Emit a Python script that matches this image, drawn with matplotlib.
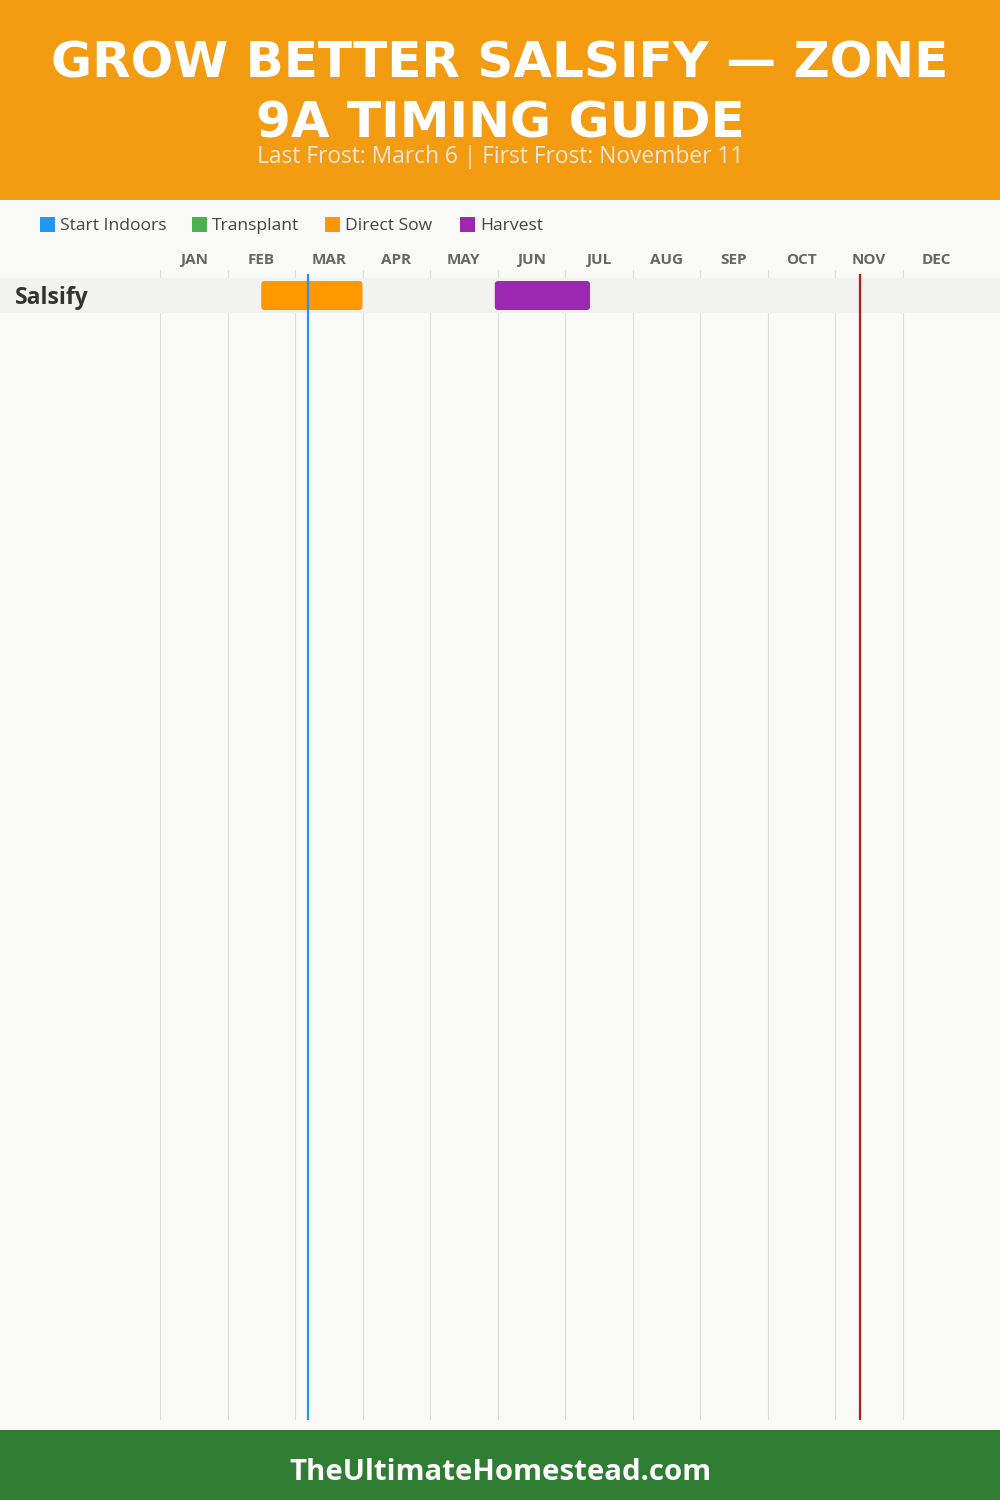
import matplotlib
matplotlib.use("Agg")
import matplotlib.pyplot as plt
from matplotlib.patches import Rectangle, FancyBboxPatch
from matplotlib.transforms import blended_transform_factory

# ---- data ----
title_lines = ["GROW BETTER SALSIFY — ZONE", "9A TIMING GUIDE"]
subtitle = "Last Frost: March 6 | First Frost: November 11"
footer = "TheUltimateHomestead.com"
months = ["JAN", "FEB", "MAR", "APR", "MAY", "JUN", "JUL", "AUG", "SEP", "OCT", "NOV", "DEC"]
legend_labels = ["Start Indoors", "Transplant", "Direct Sow", "Harvest"]
legend_colors = ["#2196F3", "#4CAF50", "#FF9800", "#9C27B0"]
crops = ["Salsify"]
# tasks: (crop index, start month, end month, legend index) in month units (0 = Jan 1)
task_crop = [0, 0]
task_start = [1.5, 4.96]
task_end = [3.0, 6.37]
task_kind = [2, 3]
last_frost = 2.19
first_frost = 10.37

W, H = 1000, 1500
BG = "#F9F9F7"
fig = plt.figure(figsize=(10, 15), dpi=100, facecolor=BG)

def fy(px):
    return 1 - px / H

# header & footer
fig.patches.append(Rectangle((0, fy(200)), 1, 200 / H, transform=fig.transFigure,
                             facecolor="#F39C12", edgecolor="none", zorder=0))
fig.patches.append(Rectangle((0, 0), 1, 70 / H, transform=fig.transFigure,
                             facecolor="#2E7D32", edgecolor="none", zorder=0))

fig.text(0.5, fy(63), title_lines[0], ha="center", va="center", color="white",
         fontsize=36, fontweight="heavy", family="DejaVu Sans")
fig.text(0.5, fy(123), title_lines[1], ha="center", va="center", color="white",
         fontsize=36, fontweight="heavy", family="DejaVu Sans")
fig.text(0.5, fy(157), subtitle, ha="center", va="center", color="#ECE6DA",
         fontsize=16.4, family="Open Sans")
fig.text(0.5, fy(1473), footer, ha="center", va="center", color="white",
         fontsize=21.2, fontweight="bold", family="Open Sans")

# legend
legend_x = [40, 192, 325, 460]
for lab, col, lx in zip(legend_labels, legend_colors, legend_x):
    fig.patches.append(Rectangle((lx / W, fy(232)), 15 / W, 15 / H, transform=fig.transFigure,
                                 facecolor=col, edgecolor="none"))
    fig.text((lx + 20) / W, fy(226.5), lab, ha="left", va="center", color="#444444",
             fontsize=12.6, family="Open Sans")

# chart axes: x in months, y in pixels below top of grid
top, bottom, left, right = 270, 1420, 160, 970
ax = fig.add_axes([left / W, fy(bottom), (right - left) / W, (bottom - top) / H])
ax.set_xlim(0, 12)
ax.set_ylim(bottom - top, 0)
ax.set_facecolor("none")
ax.axis("off")
band_tr = blended_transform_factory(fig.transFigure, ax.transData)

row_h = 35
row_top0 = 8
for i, name in enumerate(crops):
    y0 = row_top0 + i * row_h
    ax.add_patch(Rectangle((0, y0), 1, row_h, transform=band_tr, facecolor="#F2F2F0",
                           edgecolor="none", zorder=2, clip_on=False))
    ax.text(15 / W, y0 + row_h / 2 + 3, name, transform=band_tr, ha="left", va="center",
            color="#333333", fontsize=16.5, fontweight="bold", family="Open Sans",
            clip_on=False)

for m in range(13):
    ax.axvline(m, color="#DDDDDD", lw=0.8, zorder=1)
for m, lab in enumerate(months):
    ax.text(m + 0.5, -10, lab, ha="center", va="center", color="#666666",
            fontsize=11, fontweight="bold", family="Open Sans", clip_on=False)

for c, s, e, k in zip(task_crop, task_start, task_end, task_kind):
    y0 = row_top0 + c * row_h + 3
    p = FancyBboxPatch((s, y0), e - s, row_h - 6,
                       boxstyle="round,pad=0,rounding_size=0.05",
                       mutation_aspect=67.5, facecolor=legend_colors[k],
                       edgecolor="none", zorder=3)
    ax.add_patch(p)

ax.plot([last_frost, last_frost], [5, bottom - top], color="#2196F3", lw=1.6, zorder=4)
ax.plot([first_frost, first_frost], [5, bottom - top], color="#B71C1C", lw=1.6, zorder=4)

fig.savefig("out.png", dpi=100, facecolor=BG)
